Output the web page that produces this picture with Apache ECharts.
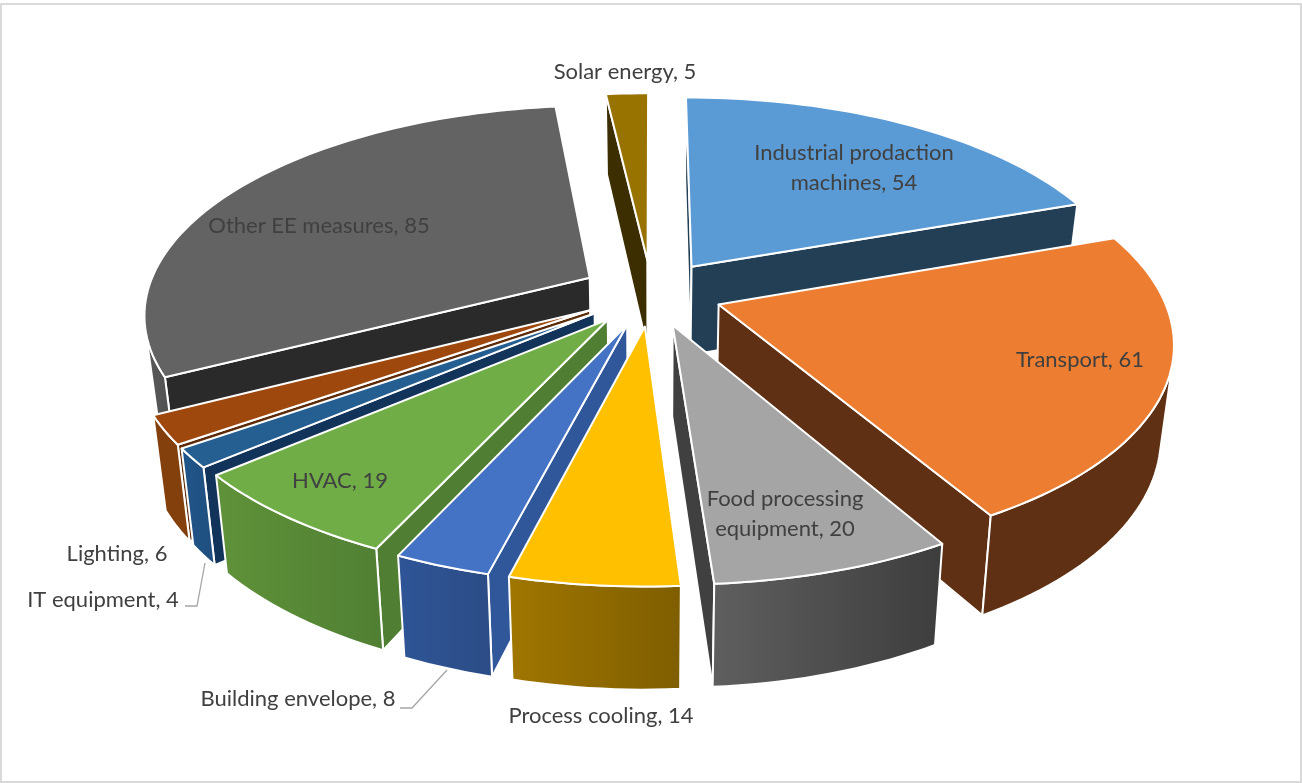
<!DOCTYPE html>
<html><head><meta charset="utf-8">
<style>html,body{margin:0;padding:0;background:#fff}#c{width:1302px;height:783px}</style>
<script src="https://cdn.jsdelivr.net/npm/echarts@6/dist/echarts.min.js"></script>
</head><body><div id="c"></div>
<script>
const categories = ['Industrial prodaction machines','Transport','Food processing equipment','Process cooling','Building envelope','HVAC','IT equipment','Lighting','Other EE measures','Solar energy'];
const values = [54,61,20,14,8,19,4,6,85,5];
const labelLines = [['Industrial prodaction','machines, 54'],['Transport, 61'],['Food processing','equipment, 20'],['Process cooling, 14'],['Building envelope, 8'],['HVAC, 19'],['IT equipment, 4'],['Lighting, 6'],['Other EE measures, 85'],['Solar energy, 5']];
const labelCentres = [[854,168],[1080,360],[785,514],[601,716],[298,699],[340,481],[103,600],[117,554],[319,226],[625,72]];
const topColors = ['#5B9BD5','#EC7D31','#A5A5A5','#FFC000','#4472C4','#70AD47','#255E91','#9E480E','#636363','#997300'];
const cutColors = ['#233F55','#5F3014','#404040','#6B5000','#30579A','#507F33','#12335A','#5E2B08','#2A2A2A','#3D2E00'];
const wallFrom = ['#2D5270','#5F3014','#5F5F5F','#A07600','#2F5597','#5F9239','#21558A','#84400C','#5A5A5A','#6B5000'];
const wallTo = ['#2D5270','#5F3014','#3D3D3D','#7F5E00','#2B4C85','#507F33','#1F4F7E','#84400C','#4E4E4E','#6B5000'];
const leaderLines = [[[185,606],[197,606],[205,563]],[[400,708],[412,708],[447,670]]];

const cx=651.5, cy=293, Rx=443, Ry=205, persp=0.164, explode=0.16, depth=89.5, shrink=0.975;
const total = values.reduce((a,b)=>a+b,0);
const rad = d=>d*Math.PI/180;
let acc=0;
const spans = values.map(v=>{const a=acc/total*360; acc+=v; return [a,acc/total*360];});
const mids = spans.map(s=>(s[0]+s[1])/2);
const paintRank = {};
mids.map((m,i)=>[Math.cos(rad(m)),i]).sort((a,b)=>b[0]-a[0]).forEach((e,r)=>paintRank[e[1]]=r);

function proj(X,Y,low){
  const p=1/(1+persp*Y), f=low?shrink:1;
  return [cx+Rx*X*p*f, cy-Ry*Y*p*f+(low?depth*p:0)];
}
function pt(i,ang,r,low){
  const m=rad(mids[i]), a=rad(ang);
  return proj(r*Math.sin(a)+explode*Math.sin(m), r*Math.cos(a)+explode*Math.cos(m), low);
}
function area(q){let s=0;for(let i=0;i<q.length;i++){const a=q[i],b=q[(i+1)%q.length];s+=a[0]*b[1]-b[0]*a[1];}return s;}
const edge={stroke:'#fff',lineWidth:2,lineJoin:'round'};

function renderSlice(params,api){
  const i=params.dataIndex, [a0,a1]=spans[i], z=paintRank[i]*10+1, kids=[];
  const poly=(points,fill,zz)=>kids.push({type:'polygon',z2:zz,shape:{points},style:Object.assign({fill},edge)});
  const steps=Math.max(4,Math.ceil((a1-a0)/1.5)), angs=[];
  for(let k=0;k<=steps;k++)angs.push(a0+(a1-a0)*k/steps);
  const wallQuad=(A,B)=>[A[0],B[0],B[1],A[1]];
  const apex=[pt(i,0,0,false),pt(i,0,0,true)];
  const s=[pt(i,a0,1,false),pt(i,a0,1,true)], e=[pt(i,a1,1,false),pt(i,a1,1,true)];
  const q1=wallQuad(apex,s), q2=wallQuad(e,apex);
  if(area(q1)<0)poly(q1,cutColors[i],z);
  if(area(q2)<0)poly(q2,cutColors[i],z);
  let run=[];
  const flush=()=>{
    if(run.length>1){
      const pts=run.map(r=>r[0]).concat(run.slice().reverse().map(r=>r[1]));
      poly(pts,new echarts.graphic.LinearGradient(0,0,1,0,[{offset:0,color:wallFrom[i]},{offset:1,color:wallTo[i]}]),z+1);
    }
    run=[];
  };
  for(let k=0;k<steps;k++){
    const A=[pt(i,angs[k],1,false),pt(i,angs[k],1,true)], B=[pt(i,angs[k+1],1,false),pt(i,angs[k+1],1,true)];
    if(area(wallQuad(A,B))<0){ if(!run.length)run.push(A); run.push(B);} else flush();
  }
  flush();
  const top=[apex[0]].concat(angs.map(a=>pt(i,a,1,false)));
  poly(top,topColors[i],z+2);
  const [lx,ly]=labelCentres[i];
  kids.push({type:'text',z2:500,style:{x:lx,y:ly,text:labelLines[i].join('\n'),fill:'#404040',
    font:'22px Lato',align:'center',verticalAlign:'middle',lineHeight:30}});
  return {type:'group',children:kids};
}

const chart=echarts.init(document.getElementById('c'),null,{renderer:'canvas'});
chart.setOption({
  animation:false,
  backgroundColor:'#fff',
  graphic:{elements:[
    {type:'rect',silent:true,z:-1,shape:{x:1,y:4,width:1300,height:778},style:{fill:'#fff',stroke:'#d9d9d9',lineWidth:2}}
  ].concat(leaderLines.map(l=>({type:'polyline',silent:true,z:5,shape:{points:l},style:{fill:'none',stroke:'#a6a6a6',lineWidth:1.3}})))},
  series:[{type:'custom',coordinateSystem:'none',silent:true,clip:false,renderItem:renderSlice,
    data:values.map((v,i)=>({name:categories[i],value:v}))}]
});
</script></body></html>
